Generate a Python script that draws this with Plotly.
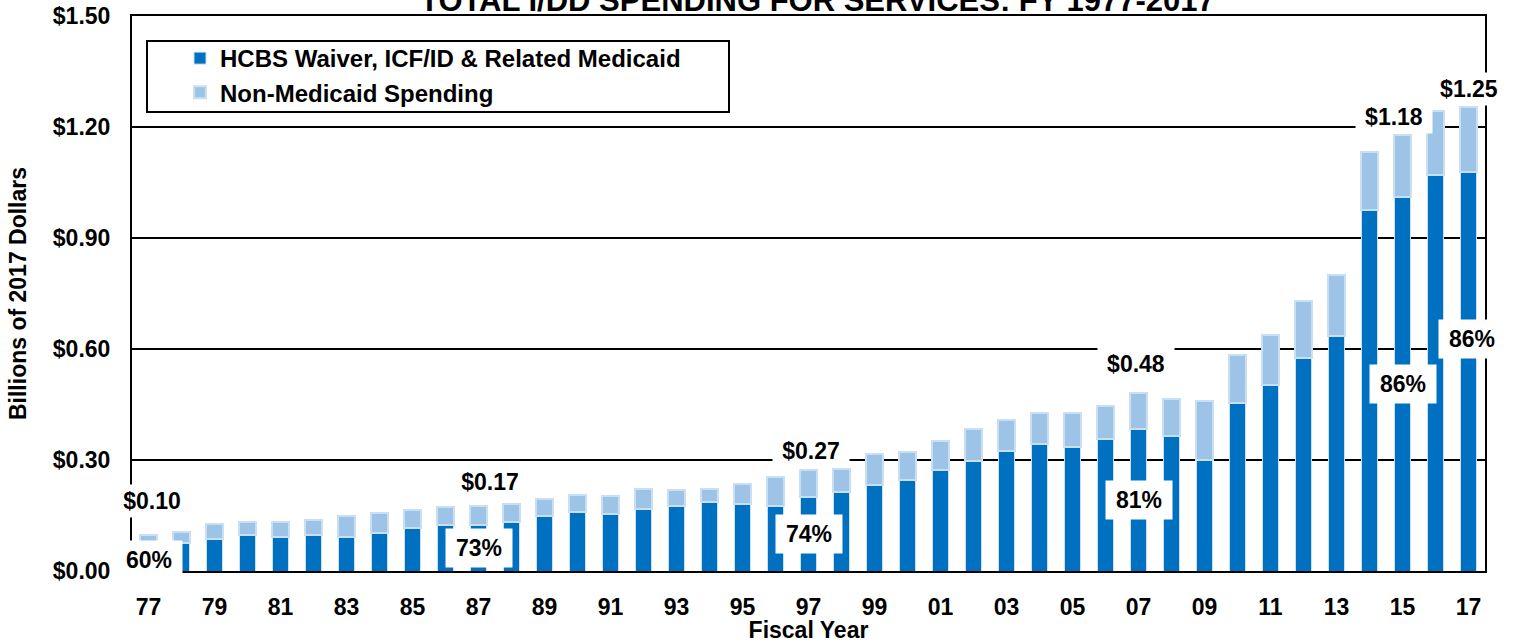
import plotly.graph_objects as go

# Fiscal years 1977-2017, two-digit labels
years = ['77', '78', '79', '80', '81', '82', '83', '84', '85', '86',
         '87', '88', '89', '90', '91', '92', '93', '94', '95', '96',
         '97', '98', '99', '00', '01', '02', '03', '04', '05', '06',
         '07', '08', '09', '10', '11', '12', '13', '14', '15', '16', '17']

# Billions of 2017 dollars
medicaid = [0.058, 0.077, 0.086, 0.097, 0.093, 0.097, 0.093, 0.102, 0.117, 0.124,
            0.124, 0.132, 0.148, 0.159, 0.154, 0.168, 0.175, 0.187, 0.182, 0.177,
            0.199, 0.214, 0.232, 0.247, 0.274, 0.298, 0.323, 0.343, 0.334, 0.356,
            0.385, 0.366, 0.301, 0.455, 0.504, 0.575, 0.635, 0.975, 1.012, 1.070, 1.078]
non_medicaid = [0.039, 0.029, 0.040, 0.036, 0.039, 0.041, 0.056, 0.054, 0.048, 0.049,
                0.053, 0.050, 0.047, 0.046, 0.049, 0.053, 0.044, 0.035, 0.053, 0.078,
                0.073, 0.061, 0.084, 0.075, 0.077, 0.086, 0.085, 0.083, 0.094, 0.091,
                0.097, 0.100, 0.159, 0.130, 0.133, 0.156, 0.164, 0.158, 0.166, 0.172, 0.176]

# callouts
total_label_years = ['77', '87', '97', '07', '15', '17']
total_label_text = ['$0.10', '$0.17', '$0.27', '$0.48', '$1.18', '$1.25']
share_label_years = ['77', '87', '97', '07', '15', '17']
share_label_text = ['60%', '73%', '74%', '81%', '86%', '86%']

y_ticks = [0.0, 0.3, 0.6, 0.9, 1.2, 1.5]

FONT = 'Arial, Liberation Sans, sans-serif'
DARK = '#0070C0'
LIGHT = '#9DC3E6'
EDGE = '#C9DFF3'

W, H = 1514, 643
L, R, T, B = 132, 29, 16, 72
PW, PH = W - L - R, H - T - B

fig = go.Figure()
fig.add_trace(go.Bar(
    x=years, y=medicaid, name='HCBS Waiver, ICF/ID & Related Medicaid',
    marker=dict(color=DARK, line=dict(color=EDGE, width=1)),
))
fig.add_trace(go.Bar(
    x=years, y=non_medicaid, name='Non-Medicaid Spending',
    marker=dict(color=LIGHT, line=dict(color=EDGE, width=2)),
))

totals = [m + n for m, n in zip(medicaid, non_medicaid)]

# pixel nudges for the dollar callouts (xshift, yshift)
total_shifts = [(3, 34), (11, 24), (2, 19), (-3, 29), (-9, 18), (0, 18)]
for yr, txt, (dx, dy) in zip(total_label_years, total_label_text, total_shifts):
    i = years.index(yr)
    fig.add_annotation(
        x=i, y=totals[i], text=f'<b>{txt}</b>', showarrow=False,
        xshift=dx, yshift=dy, bgcolor='white', width=74, height=30,
        font=dict(family=FONT, size=23, color='black'),
    )

share_shifts = [(0, 0), (0, 0), (0, 0), (0, 0), (0, 0), (3, 33)]
for yr, txt, (dx, dy) in zip(share_label_years, share_label_text, share_shifts):
    i = years.index(yr)
    fig.add_annotation(
        x=i, y=medicaid[i] / 2, text=f'<b>{txt}</b>', showarrow=False,
        xshift=dx, yshift=dy, bgcolor='white', width=64, height=36,
        font=dict(family=FONT, size=23, color='black'),
    )

# title, partly cut off at the top as in the source
fig.add_annotation(
    x=0.507, y=1, xref='paper', yref='paper', yanchor='bottom', yshift=-4,
    text='<b>TOTAL I/DD SPENDING FOR SERVICES: FY 1977-2017</b>',
    showarrow=False, font=dict(family=FONT, size=31, color='black'),
)

# legend frame (page px 147..729 x 41..112)
fig.add_shape(
    type='rect', xref='paper', yref='paper',
    x0=(147 - L) / PW, x1=(729 - L) / PW,
    y0=(H - B - 112) / PH, y1=(H - B - 41) / PH,
    line=dict(color='black', width=2), layer='above',
)

fig.update_layout(
    width=W, height=H,
    margin=dict(l=L, r=R, t=T, b=B, autoexpand=False),
    barmode='stack', bargap=0.5,
    plot_bgcolor='white', paper_bgcolor='white',
    font=dict(family=FONT, color='black'),
    showlegend=True,
    legend=dict(
        x=(180 - L) / PW, y=(H - B - 36) / PH, xanchor='left', yanchor='top',
        traceorder='normal', bgcolor='rgba(0,0,0,0)', borderwidth=0,
        font=dict(family=FONT, size=24, color='black', weight='bold'),
    ),
    xaxis=dict(
        type='category', tickvals=years[::2], tickangle=0, automargin=False,
        range=[-0.5, len(years) - 0.5],
        showline=True, mirror=True, linecolor='black', linewidth=2,
        showgrid=False, ticks='', ticklabelstandoff=14,
        tickfont=dict(family=FONT, size=23, color='black', weight='bold'),
        title=dict(text='<b>Fiscal Year</b>', standoff=4,
                   font=dict(family=FONT, size=23, color='black')),
    ),
    yaxis=dict(
        range=[0, 1.5], tickvals=y_ticks,
        ticktext=[f'${v:.2f}' for v in y_ticks], automargin=False,
        ticklabeloverflow='allow',
        showline=True, mirror=True, linecolor='black', linewidth=2,
        showgrid=True, gridcolor='black', gridwidth=1.5, zeroline=False,
        ticks='', ticklabelstandoff=15,
        tickfont=dict(family=FONT, size=23, color='black', weight='bold'),
        title=dict(text='<b>Billions of 2017 Dollars</b>', standoff=20,
                   font=dict(family=FONT, size=23, color='black')),
    ),
)

# drop the browser's default 8px body margin so the figure sits at the page corner
fig.write_html('out.html', config={'displayModeBar': False},
               post_script="document.body.style.margin='0px';")
